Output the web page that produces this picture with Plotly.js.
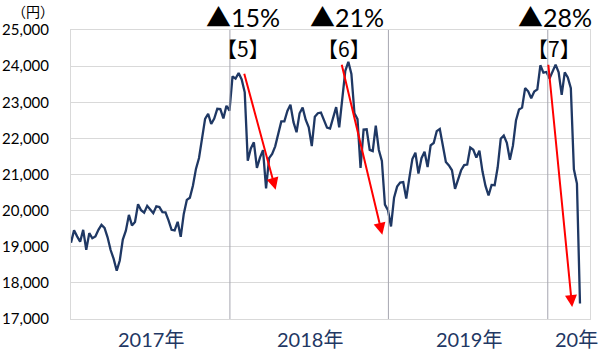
<!DOCTYPE html>
<html>
<head>
<meta charset="utf-8">
<script src="https://cdn.plot.ly/plotly-3.0.1.min.js"></script>
<style>html,body{margin:0;padding:0;background:#fff;}#chart{width:600px;height:350px;}</style>
</head>
<body>
<div id="chart"></div>
<script>
// Weekly closes (円), first week ending 2016-12-30
const firstWeek = '2016-12-30';
const close2016 = [19114];
const close2017 = [19454,19287,19137,19467,18918,19378,19234,19283,19469,19604,19521,19262,18909,
  18665,18335,18620,19197,19445,19883,19590,19687,20177,20013,19943,20132,20033,19929,20118,20099,
  19959,19952,19729,19470,19452,19691,19274,19909,20296,20356,20690,21155,21457,22008,22539,22681,
  22397,22550,22819,22811,22553,22903,22765];
const close2018 = [23714,23653,23808,23631,23274,21382,21720,21892,21182,21469,21676,20617,21454,
  21568,21779,22162,22468,22473,22758,22930,22450,22171,22695,22851,22516,22305,21788,22597,22697,
  22712,22525,22298,22270,22601,22865,22307,23094,23870,24120,23784,22694,22532,21184,22244,22250,
  21680,21646,22351,21679,21375,20166,20015];
const close2019 = [19562,20360,20666,20774,20788,20333,20901,21426,21603,21025,21451,21627,21206,
  21807,21871,22200,22259,null,21345,21250,21117,20601,20885,21117,21259,21276,21746,21686,21467,
  21658,21088,20685,20419,20711,20704,21200,21988,22079,21879,21410,21799,22493,22800,22851,23392,
  23303,23113,23294,23354,24023,23817,23838];
const close2020 = [23657,23851,24041,23827,23205,23828,23688,23387,21143,20750,17431];

const yearLabels = ['2017年','2018年','2019年','20年'];
const yearLabelDates = ['2017-07-02','2018-07-02','2019-07-02','2020-03-05'];
const yearLineDates = ['2017-12-30','2018-12-29','2019-12-30'];

const dropPct = ['▲15%','▲21%','▲28%'];
const dropNo = ['【5】','【6】','【7】'];
const arrowStartDate = ['2018-01-31','2018-09-12','2019-12-31'];
const arrowStartVal = [23830,24080,24080];
const arrowEndDate = ['2018-04-14','2018-12-15','2020-02-24'];
const arrowEndVal = [20580,19330,17330];

const closes = [].concat(close2016, close2017, close2018, close2019, close2020);
const t0 = Date.parse(firstWeek + 'T00:00:00Z');
const dates = closes.map((_, i) => new Date(t0 + i * 7 * 86400000).toISOString().slice(0, 10));

const navy = '#1f3864';
const fontLat = 'Lato, "Noto Sans CJK JP", sans-serif';

const trace = {
  x: dates, y: closes, type: 'scatter', mode: 'lines', connectgaps: true,
  line: {color: navy, width: 2.3}, hoverinfo: 'skip'
};

const shapes = yearLineDates.map(d => ({
  type: 'line', xref: 'x', yref: 'paper', x0: d, x1: d, y0: 0, y1: 1,
  line: {color: '#a6a6b0', width: 1}
}));

const annotations = [];
yearLabels.forEach((t, i) => annotations.push({
  text: t, x: yearLabelDates[i], xref: 'x', y: -0.069, yref: 'paper',
  xanchor: 'center', yanchor: 'middle', showarrow: false,
  font: {family: fontLat, size: 20, color: navy}
}));
const pctX = [0.331, 0.532, 0.933];
const noX = [0.331, 0.526, 0.931];
dropPct.forEach((t, i) => {
  annotations.push({text: t, x: pctX[i], xref: 'paper', y: 1.045, yref: 'paper',
    xanchor: 'center', yanchor: 'middle', showarrow: false,
    font: {family: fontLat, size: 25, color: '#000'}});
  annotations.push({text: dropNo[i], x: noX[i], xref: 'paper', y: 0.9375, yref: 'paper',
    xanchor: 'center', yanchor: 'middle', showarrow: false,
    font: {family: '"Noto Sans CJK JP", sans-serif', size: 21, color: '#000'}});
  annotations.push({text: '', x: arrowEndDate[i], y: arrowEndVal[i], xref: 'x', yref: 'y',
    ax: arrowStartDate[i], ay: arrowStartVal[i], axref: 'x', ayref: 'y',
    showarrow: true, arrowhead: 2, arrowsize: 1.2, arrowwidth: 2, arrowcolor: '#ff0000'});
});
annotations.push({text: '（円）', x: -0.074, xref: 'paper', y: 1.104, yref: 'paper',
  xanchor: 'center', yanchor: 'top', showarrow: false, borderpad: 0,
  font: {family: '"Noto Sans CJK JP", sans-serif', size: 14, color: '#000'}});

const layout = {
  width: 600, height: 350,
  margin: {l: 71, r: 10, t: 30, b: 31},
  paper_bgcolor: '#fff', plot_bgcolor: '#fff',
  showlegend: false,
  xaxis: {type: 'date', range: ['2016-12-30', '2020-04-05'], showticklabels: false,
    showgrid: false, zeroline: false, showline: true, mirror: true, linecolor: '#d9d9d9', linewidth: 1,
    ticks: ''},
  yaxis: {range: [17000, 25000], dtick: 1000, tickformat: ',d', showgrid: true, gridcolor: '#d9d9d9',
    zeroline: false, showline: true, mirror: true, linecolor: '#d9d9d9', linewidth: 1, ticks: '',
    ticklabelstandoff: 18, tickfont: {family: fontLat, size: 15, color: '#000'}},
  shapes: shapes,
  annotations: annotations
};

Plotly.newPlot('chart', [trace], layout, {staticPlot: true, displayModeBar: false});
</script>
</body>
</html>
